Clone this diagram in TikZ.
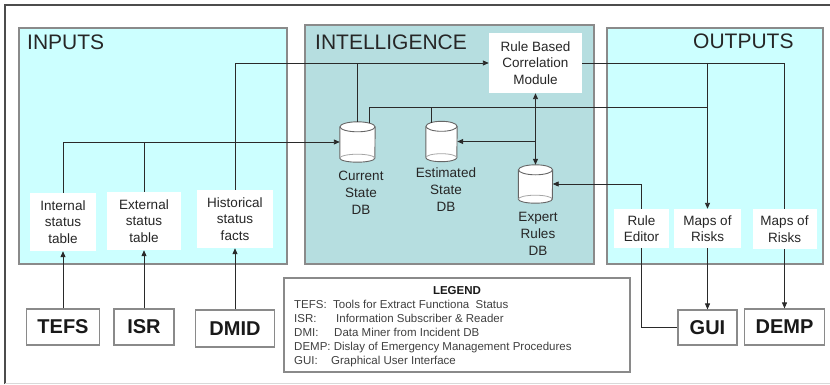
\documentclass[tikz,border=0pt]{standalone}
\usepackage{fontspec}
\setmainfont{Liberation Sans}
\usetikzlibrary{arrows.meta,calc}
\definecolor{panelc}{HTML}{CCFFFF}
\definecolor{intc}{HTML}{B6DEE0}
\definecolor{bord}{HTML}{8A8A8A}
\definecolor{linec}{HTML}{2A2A2A}
\newcommand\mycyl[2]{%
  \draw[cylst] ($(#1.north west)+(0,5)$) -- ($(#1.south west)+(0,-4)$)
     arc[start angle=180,end angle=360,x radius=#2pt,y radius=4pt] -- ($(#1.north east)+(0,5)$);
  \draw[cylst] ($(#1.north)+(0,5)$) ellipse[x radius=#2pt, y radius=5pt];
  \draw[cylin] ($(#1.south west)+(0,-4)$) arc[start angle=180,end angle=0,x radius=#2pt,y radius=4pt];}
\begin{document}
\begin{tikzpicture}[x=1pt,y=-1pt,
  panel/.style={draw=bord, line width=1.2pt},
  wbox/.style={fill=white, inner sep=0pt, align=center, font=\fontsize{13.5}{16.5}\selectfont, text=black!85},
  lbl/.style={inner sep=0pt, align=center, font=\fontsize{13.5}{17}\selectfont, text=black!85},
  bbox/.style={draw=bord, fill=white, line width=1.2pt, inner sep=0pt, font=\fontsize{20}{24}\selectfont\bfseries, text=black!90},
  title/.style={anchor=west, inner sep=0pt, font=\fontsize{21}{25}\selectfont, text=black!85},
  cylnode/.style={inner sep=0pt},
  cylst/.style={draw=black!60, fill=white, line width=0.9pt},
  cylin/.style={draw=black!35, line width=0.8pt},
  legt/.style={anchor=base west, inner sep=0pt, font=\fontsize{11.5}{14}\selectfont, text=black!75},
  conn/.style={draw=linec, line width=0.9pt},
  arr/.style={conn, -{Triangle[length=6pt,width=5pt]}},
  darr/.style={conn, {Triangle[length=6pt,width=5pt]}-{Triangle[length=6pt,width=5pt]}}]
\useasboundingbox (0,0) rectangle (830,385);
\fill[white] (0,0) rectangle (830,385);
% outer frame
\draw[black!70, line width=1.2pt] (5,384) -- (5,5) -- (830,5);
\draw[black!15, line width=1pt] (5,383.5) -- (830,383.5);
% panels
\draw[panel, fill=panelc] (19,28) rectangle (287,264);
\draw[panel, fill=intc] (305,25) rectangle (594,264);
\draw[panel, fill=panelc] (607,28) rectangle (823,264);
\node[title] (tin) at (27,42) {INPUTS};
\node[title] (tint) at (315,42) {INTELLIGENCE};
\node[title] (tout) at (693,41) {OUTPUTS};
% input boxes
\node[wbox, minimum width=66pt, minimum height=58pt] (int) at (63,222) {Internal\\status\\table};
\node[wbox, minimum width=74pt, minimum height=58pt] (ext) at (144,221) {External\\status\\table};
\node[wbox, minimum width=76pt, minimum height=58pt] (his) at (235,219) {Historical\\status\\facts};
\node[bbox, minimum width=73pt, minimum height=36pt] (tefs) at (63,327) {TEFS};
\node[bbox, minimum width=60pt, minimum height=36pt] (isr) at (144,327) {ISR};
\node[bbox, minimum width=79pt, minimum height=37pt] (dmid) at (235,328.5) {DMID};
% intelligence
\node[wbox, minimum width=93pt, minimum height=60pt] (rbc) at (535.5,63) {Rule Based\\Correlation\\Module};
\node[cylnode, minimum width=35pt, minimum height=40pt] (cur) at (357.5,142) {};
\node[cylnode, minimum width=31pt, minimum height=40pt] (est) at (441.5,141.5) {};
\node[cylnode, minimum width=34pt, minimum height=38pt] (exp) at (535.5,184) {};
\mycyl{cur}{17.5}
\mycyl{est}{15.5}
\mycyl{exp}{17}
\node[lbl] (curl) at (361,193) {Current\\State\\DB};
\node[lbl] (estl) at (446,189.5) {Estimated\\State\\DB};
\node[lbl] (expl) at (538,234) {Expert\\Rules\\DB};
% outputs
\node[wbox, minimum width=55pt, minimum height=39pt] (red) at (641.5,228.5) {Rule\\Editor};
\node[wbox, minimum width=67pt, minimum height=39pt] (map1) at (707.5,228.5) {Maps of\\Risks};
\node[wbox, minimum width=64pt, minimum height=40pt] (map2) at (784.5,229) {Maps of\\Risks};
\node[bbox, minimum width=59pt, minimum height=35pt] (gui) at (707.5,327.5) {GUI};
\node[bbox, minimum width=80pt, minimum height=36pt] (demp) at (784.5,327) {DEMP};
% legend
\node[draw=bord, line width=1.2pt, fill=white, inner sep=0pt, minimum width=346pt, minimum height=94pt] (leg) at (457,325) {};
\node[anchor=base, inner sep=0pt, font=\fontsize{11.5}{14}\selectfont\bfseries, text=black!90] (legh) at (457,294) {LEGEND};
\node[legt] (l1) at (294,308) {\makebox[39pt][l]{TEFS:}Tools for Extract Functiona\ \ Status};
\node[legt] (l2) at (294,322) {\makebox[42pt][l]{ISR:}Information Subscriber \& Reader};
\node[legt] (l3) at (294,336.5) {\makebox[40pt][l]{DMI:}Data Miner from Incident DB};
\node[legt] (l4) at (294,350.5) {DEMP: Dislay of Emergency Management Procedures};
\node[legt] (l5) at (294,364) {\makebox[37pt][l]{GUI:}Graphical User Interface};
% connectors: inputs
\draw[arr] (tefs.north) -- (tefs.north |- int.south);
\draw[arr] (isr.north) -- (isr.north |- ext.south);
\draw[arr] (dmid.north) -- (dmid.north |- his.south);
\draw[arr] (int.north) |- (cur.west);
\draw[conn] (ext.north) -- (ext.north |- cur.west);
\draw[arr] (his.north) |- (rbc.west);
\draw[conn] (cur.north) -- (cur.north |- rbc.west);
% bus to outputs
\coordinate (bus) at (0,107);
\coordinate (curj) at ($(cur.north)+(11.5,1.3)$);
\coordinate (estj) at ($(est.north)+(-10.5,1.3)$);
\draw[conn] (curj) |- (bus -| map1.north);
\draw[conn] (estj) -- (estj |- bus);
% module and expert rules
\draw[darr] (rbc.south) -- (rbc.south |- exp.north);
\draw[arr] (rbc.south |- est.east) -- (est.east);
\draw[arr] (red.north) |- (exp.east);
% outputs
\draw[conn] (rbc.east) -| (map2.north);
\draw[arr] (rbc.east -| map1.north) -- (map1.north);
\draw[arr] (map1.south) -- (map1.south |- gui.north);
\draw[arr] (map2.south) -- (map2.south |- demp.north);
\draw[conn] (red.south) |- (gui.west);
\end{tikzpicture}
\end{document}
